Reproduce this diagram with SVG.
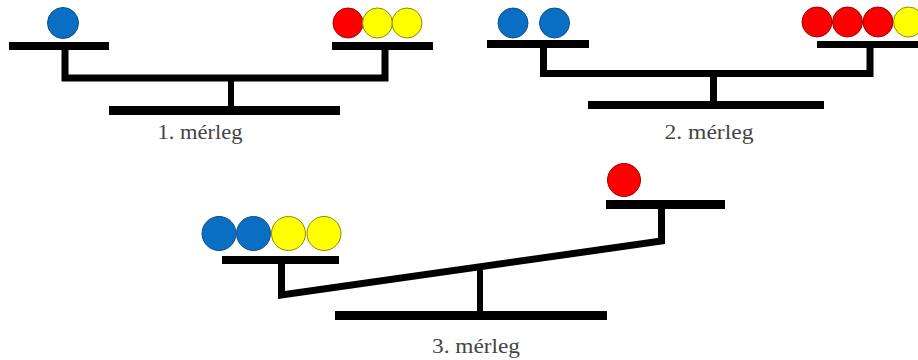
<svg xmlns="http://www.w3.org/2000/svg" width="918" height="360" viewBox="0 0 918 360">
<style>
.bar{fill:#000}
.arm{fill:none;stroke:#000;stroke-width:7;stroke-linejoin:miter}
.b{fill:#0a6fc2;stroke:#0b4f8f;stroke-width:1}
.r{fill:#ff0000;stroke:#a00000;stroke-width:1}
.y{fill:#ffff00;stroke:#8a8a00;stroke-width:1}
.lbl{font-family:"Liberation Serif","Times New Roman",serif;font-size:20px;fill:#444;text-anchor:middle}
</style>
<rect width="918" height="360" fill="#fff"/>
<g id="scale1">
  <rect class="bar" x="9" y="42" width="100" height="8"/>
  <rect class="bar" x="332" y="42" width="101" height="8"/>
  <path class="arm" d="M65,50 V78 H385 V50"/>
  <rect class="bar" x="228" y="80" width="6" height="28"/>
  <rect class="bar" x="109" y="106" width="231" height="9"/>
  <circle class="b" cx="63" cy="23" r="15.5"/>
  <circle class="r" cx="348" cy="23" r="15"/>
  <circle class="y" cx="377.5" cy="23" r="15"/>
  <circle class="y" cx="407" cy="23" r="15"/>
  <text class="lbl" x="200" y="139" textLength="85" lengthAdjust="spacingAndGlyphs">1. mérleg</text>
</g>
<g id="scale2">
  <rect class="bar" x="487" y="40" width="102" height="8"/>
  <rect class="bar" x="817" y="41" width="101" height="7"/>
  <path class="arm" d="M543.5,48 V73.5 H870 V48"/>
  <rect class="bar" x="710" y="76" width="7" height="27"/>
  <rect class="bar" x="588" y="101" width="236" height="8"/>
  <circle class="b" cx="513" cy="23" r="15"/>
  <circle class="b" cx="554.5" cy="23" r="15"/>
  <circle class="r" cx="817" cy="22" r="15"/>
  <circle class="r" cx="847.5" cy="22" r="15"/>
  <circle class="r" cx="878" cy="22" r="15"/>
  <circle class="y" cx="908.5" cy="22" r="15"/>
  <text class="lbl" x="709" y="139" textLength="89" lengthAdjust="spacingAndGlyphs">2. mérleg</text>
</g>
<g id="scale3">
  <rect class="bar" x="222" y="256" width="117" height="8"/>
  <rect class="bar" x="606" y="200" width="119" height="9"/>
  <path class="arm" d="M281.5,264 V295 L661.5,241 V209"/>
  <rect class="bar" x="477" y="266" width="6" height="47"/>
  <rect class="bar" x="335" y="311" width="272" height="9"/>
  <circle class="b" cx="219" cy="233.5" r="17"/>
  <circle class="b" cx="253.5" cy="233.5" r="17"/>
  <circle class="y" cx="288.5" cy="233.5" r="17"/>
  <circle class="y" cx="324" cy="233.5" r="17"/>
  <circle class="r" cx="624" cy="180" r="16.5"/>
  <text class="lbl" x="476" y="353" textLength="88" lengthAdjust="spacingAndGlyphs">3. mérleg</text>
</g>
</svg>
